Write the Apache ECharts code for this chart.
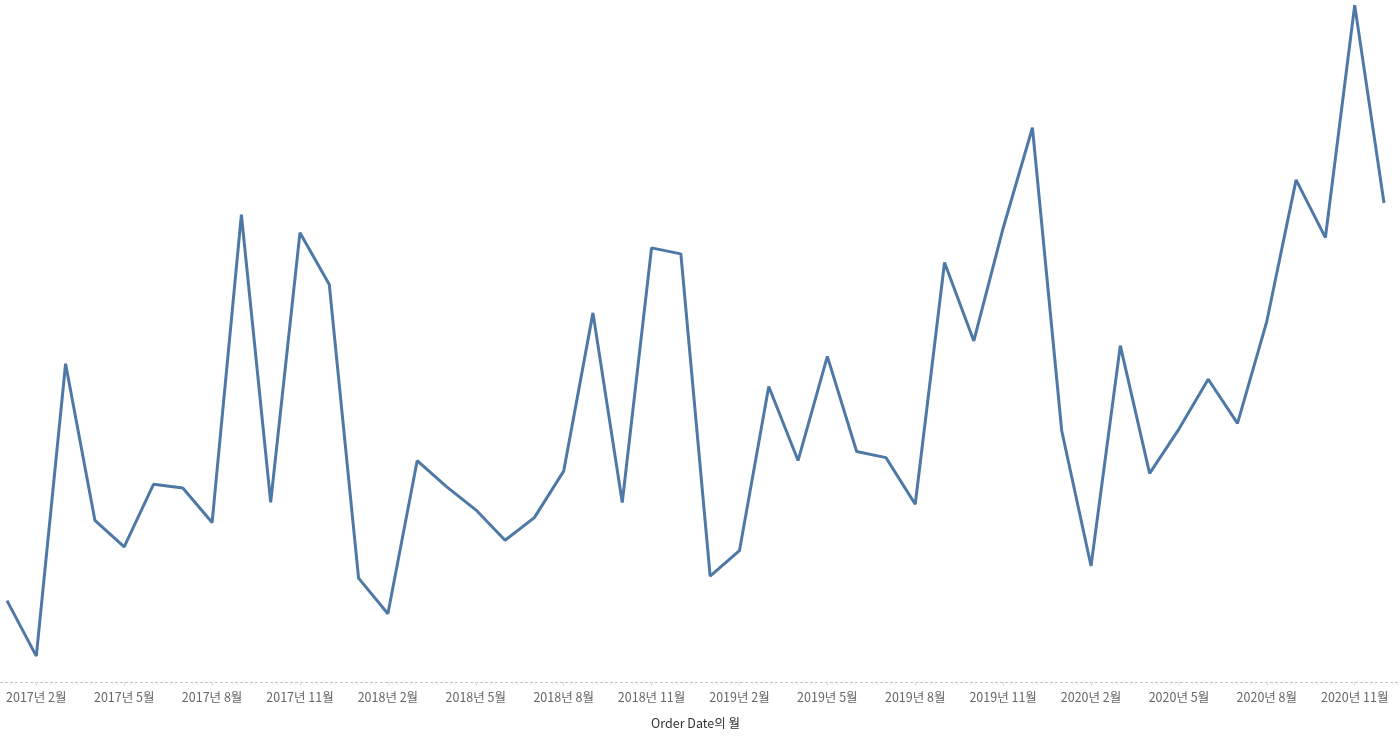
<!DOCTYPE html>
<html>
<head>
<meta charset="utf-8">
<script src="https://cdn.jsdelivr.net/npm/echarts@6/dist/echarts.min.js"></script>
<style>html,body{margin:0;padding:0;background:#fff;}#c{width:1400px;height:741px;}</style>
</head>
<body>
<div id="c"></div>
<script>
const years = [2017, 2018, 2019, 2020];
const months = [1,2,3,4,5,6,7,8,9,10,11,12];
const categories = [];
years.forEach(y => months.forEach(m => categories.push(y + '년 ' + m + '월')));

const sales2017 = [14237, 4520, 55691, 28295, 23648, 34595, 33946, 27909, 81777, 31453, 78629, 69546];
const sales2018 = [18174, 11951, 38726, 34195, 30132, 24797, 28765, 36898, 64596, 31405, 75973, 74920];
const sales2019 = [18542, 22979, 51716, 38750, 56988, 40345, 39262, 31115, 73410, 59688, 79412, 96999];
const sales2020 = [43971, 20301, 58872, 36522, 44261, 52982, 45264, 63121, 87867, 77777, 118448, 83829];
const sales = [].concat(sales2017, sales2018, sales2019, sales2020);

const axisTitle = 'Order Date의 월';

const W = 1400, H = 741, gridBottom = 59;
const chart = echarts.init(document.getElementById('c'));
const every3 = (i) => i % 3 === 1;
chart.setOption({
  animation: false,
  grid: { left: 7, right: 16, top: 2, bottom: gridBottom },
  graphic: [{
    type: 'line',
    silent: true,
    shape: { x1: 0, y1: H - gridBottom + 0.5, x2: W, y2: H - gridBottom + 0.5 },
    style: { stroke: '#c4c4c4', lineWidth: 1, lineDash: [3, 2] },
    z: 0
  }],
  xAxis: {
    type: 'category',
    data: categories,
    boundaryGap: false,
    name: axisTitle,
    nameLocation: 'middle',
    nameGap: 35,
    nameTextStyle: { color: '#333', fontSize: 12.5, fontFamily: 'Noto Sans CJK KR, Lato, sans-serif' },
    axisLine: { show: false },
    axisTick: { show: true, interval: every3, length: 4, lineStyle: { color: '#e0e0e0' } },
    axisLabel: { interval: every3, color: '#666', fontSize: 12.5, margin: 9, fontFamily: 'Noto Sans CJK KR, Lato, sans-serif' },
    splitLine: { show: false }
  },
  yAxis: {
    type: 'value',
    min: 0,
    max: 119000,
    show: false,
    splitLine: { show: false }
  },
  series: [{
    type: 'line',
    data: sales,
    showSymbol: false,
    symbol: 'none',
    lineStyle: { color: '#4E79A7', width: 3 },
    itemStyle: { color: '#4E79A7' },
    z: 2
  }]
});
</script>
</body>
</html>
